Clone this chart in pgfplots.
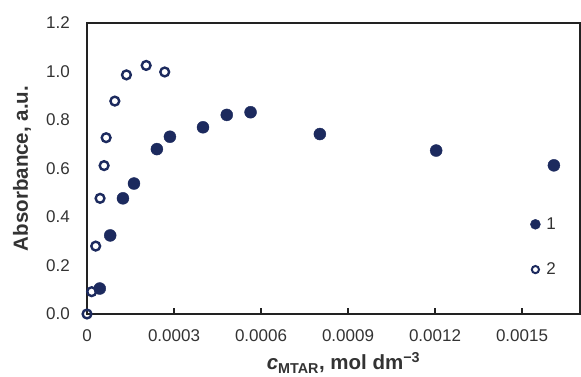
\documentclass[border=0pt]{standalone}
\usepackage{pgfplots}
\pgfplotsset{compat=1.18}
\usepackage{fontspec}
\setmainfont{Liberation Sans}
\definecolor{navy}{HTML}{1C2A5E}
\definecolor{spine}{HTML}{222222}
\definecolor{txt}{HTML}{333333}
\begin{document}
\begin{tikzpicture}
\begin{axis}[name=ax,
  scale only axis, width=493pt, height=291pt,
  xmin=0, xmax=0.0017, ymin=0, ymax=1.2,
  clip=false,
  axis line style={line width=2pt, spine},
  scaled x ticks=false, scaled y ticks=false,
  xtick={0,0.0003,0.0006,0.0009,0.0012,0.0015},
  xticklabels={0,0.0003,0.0006,0.0009,0.0012,0.0015},
  ytick={0,0.2,0.4,0.6,0.8,1.0,1.2},
  yticklabels={0.0,0.2,0.4,0.6,0.8,1.0,1.2},
  xtick pos=bottom, ytick pos=left, tick align=inside,
  major tick length=6pt,
  x tick style={line width=1.8pt, spine},
  y tick style={draw=none},
  xticklabel style={font=\fontsize{17}{20}\selectfont, text=txt, anchor=base, inner sep=0pt, yshift=-28pt},
  yticklabel style={font=\fontsize{17}{20}\selectfont, text=txt, anchor=east, inner sep=0pt, xshift=-17pt},
  xlabel={\textit{c}\textsubscript{MTAR}, mol dm\textsuperscript{−3}},
  ylabel={Absorbance, a.u.},
  xlabel style={font=\fontsize{20.5}{24}\selectfont\bfseries, text=txt, at={(axis description cs:0.5,0)}, anchor=base, inner sep=0pt, yshift=-56pt, xshift=10pt},
  ylabel style={font=\fontsize{20.5}{24}\selectfont\bfseries, text=txt, at={(axis description cs:-0.1318,0.5)}, anchor=center, inner sep=0pt},
  legend style={draw=none, fill=none, at={(rel axis cs:0.899,0.335)}, anchor=north west,
    font=\fontsize{17}{20}\selectfont, text=txt, row sep=30pt, column sep=5pt, inner sep=0pt,
    nodes={inner sep=1pt}},
  legend cell align=left,
  legend image code/.code={\draw[#1] plot coordinates {(0pt,0pt)};},
]
\addplot[only marks, mark=*, mark size=6pt, color=navy, mark options={fill=navy, draw=navy}, legend image post style={mark size=5pt}]
 coordinates {(0.000044,0.105) (0.00008,0.324) (0.000124,0.477) (0.000162,0.538) (0.000241,0.68) (0.000286,0.731) (0.0004,0.77) (0.000482,0.821) (0.000564,0.832) (0.000803,0.742) (0.001204,0.674) (0.00161,0.613)};
\addlegendentry{1}
\addplot[only marks, mark=o, mark size=4.4pt, line width=2.4pt, color=navy, mark options={line width=2.4pt, draw=navy, fill=white}, legend image post style={mark size=3.6pt, line width=2pt, mark options={line width=2pt, draw=navy, fill=white}}]
 coordinates {(0,0) (0.000016,0.092) (0.00003,0.28) (0.000045,0.477) (0.000059,0.612) (0.000066,0.727) (0.000096,0.878) (0.000136,0.986) (0.000204,1.025) (0.000268,0.998)};
\addlegendentry{2}
\end{axis}
\pgfresetboundingbox
\path[use as bounding box] ([xshift=-87pt,yshift=-63pt]ax.south west) rectangle ([xshift=1pt,yshift=23pt]ax.north east);
\end{tikzpicture}
\end{document}
